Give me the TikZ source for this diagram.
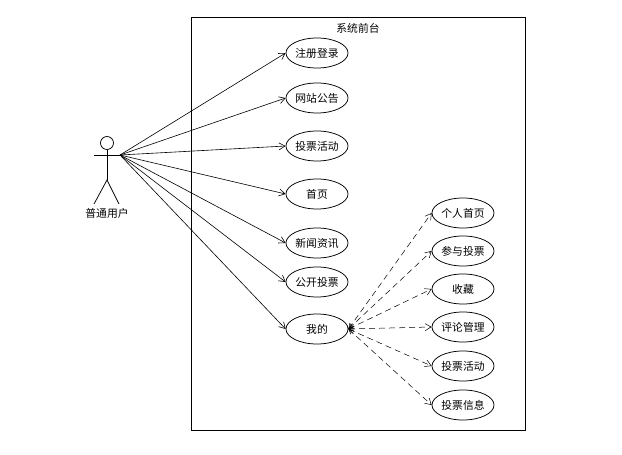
\documentclass[tikz,border=0pt]{standalone}
\usepackage{fontspec}
\setmainfont{Noto Sans CJK SC}
\usetikzlibrary{arrows.meta,shapes.geometric}
\tikzset{
    label text/.style={font=\fontsize{10.8}{12}\selectfont},
    usecase/.style={draw, ellipse, minimum width=62pt, minimum height=30pt, inner sep=0pt, line width=0.75pt, label text},
    link/.style={-{Straight Barb[length=6pt,width=7pt]}, line width=0.6pt},
    include/.style={{Straight Barb[length=5pt,width=4.5pt]}-{Straight Barb[length=6pt,width=7pt]}, dash pattern=on 6pt off 4pt, line width=0.5pt},
}
\begin{document}
\begin{tikzpicture}[x=1pt,y=-1pt]
    \useasboundingbox (0,0) rectangle (622,455);
    \fill[white] (0,0) rectangle (622,455);

    % 系统边界
    \draw[line width=0.8pt] (191,17) rectangle (525,430);
    \node[label text] (sys) at (358,28) {系统前台};

    % 参与者
    \draw[line width=0.75pt] (107,143) circle (6.5);
    \draw[line width=0.75pt] (107,149.5) -- (107,180);
    \draw[line width=0.75pt] (94,155) -- (120,155);
    \draw[line width=0.75pt] (94,204) -- (107,180) -- (119,204);
    \node[label text] (user) at (107,213) {普通用户};
    \coordinate (hand) at (120,155);

    % 左列用例
    \node[usecase] (login) at (317,53) {注册登录};
    \node[usecase] (notice) at (317,98) {网站公告};
    \node[usecase] (vote) at (317,146) {投票活动};
    \node[usecase] (home) at (317,194) {首页};
    \node[usecase] (news) at (317,243) {新闻资讯};
    \node[usecase] (open) at (317,282) {公开投票};
    \node[usecase] (mine) at (317,329) {我的};

    % 右列用例
    \node[usecase] (profile) at (463,213) {个人首页};
    \node[usecase] (join) at (463,251) {参与投票};
    \node[usecase] (fav) at (463,289) {收藏};
    \node[usecase] (comment) at (463,327) {评论管理};
    \node[usecase] (activity) at (463,366) {投票活动};
    \node[usecase] (info) at (463,405) {投票信息};

    % 关联
    \foreach \uc in {login,notice,vote,home,news,open,mine} {
        \draw[link] (hand) -- (\uc.west);
    }
    % 虚线
    \foreach \uc in {profile,join,fav,comment,activity,info} {
        \draw[include] (mine.east) -- (\uc.west);
    }
\end{tikzpicture}
\end{document}
